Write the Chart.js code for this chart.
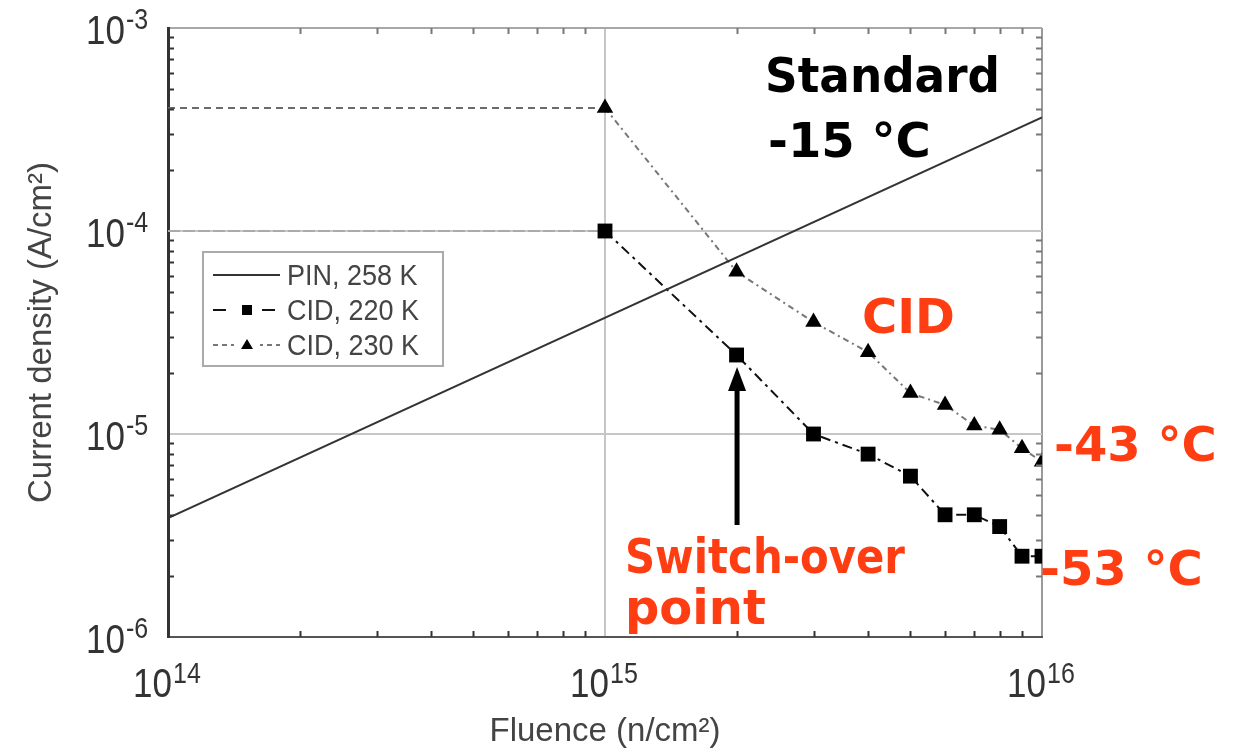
<!DOCTYPE html>
<html>
<head>
<meta charset="utf-8">
<script src="https://cdn.jsdelivr.net/npm/chart.js@4.4.1/dist/chart.umd.min.js"></script>
<style>
  html, body { margin: 0; padding: 0; background: #fff; }
  #wrap { width: 1233px; height: 753px; }
</style>
</head>
<body>
<div id="wrap"><canvas id="chart"></canvas></div>
<script>
// Fluence (n/cm2) of the CID points, first one is the flat start at 1e14
const fluence = [1e14, 1e15, 2e15, 3e15, 4e15, 5e15, 6e15, 7e15, 8e15, 9e15, 1e16];
// Current density (A/cm2)
const cid220 = [1e-4, 1e-4, 2.45e-5, 1.0e-5, 7.96e-6, 6.2e-6, 4.0e-6, 4.0e-6, 3.5e-6, 2.5e-6, 2.5e-6];
const cid230 = [4.04e-4, 4.04e-4, 6.3e-5, 3.56e-5, 2.53e-5, 1.59e-5, 1.39e-5, 1.1e-5, 1.05e-5, 8.5e-6, 7.3e-6];
// PIN is a straight line in log-log
const pinFluence = [1e14, 1e16];
const pin258 = [3.85e-6, 3.63e-4];

const seriesLabels = ['PIN, 258 K', 'CID, 220 K', 'CID, 230 K'];
const xTickExp = [14, 15, 16];
const yTickExp = [-3, -4, -5, -6];

const FONT = '"Liberation Sans", Arial, sans-serif';
const RED = '#ff3d12';

function isDecade(v) {
    const l = Math.log10(v);
    return Math.abs(l - Math.round(l)) < 1e-6;
}

function toPoints(xs, ys) {
    return xs.map((x, i) => ({ x: x, y: ys[i] }));
}

// "10" with a raised exponent, stretched a bit vertically like the scan
function drawPower(ctx, exp, xRight, baseline, expRise) {
    ctx.save();
    ctx.translate(0, baseline);
    ctx.scale(1, 1.15);
    ctx.fillStyle = '#333';
    ctx.textBaseline = 'alphabetic';
    ctx.textAlign = 'right';
    ctx.font = '35px ' + FONT;
    ctx.fillText('10', xRight, 0);
    ctx.textAlign = 'left';
    ctx.font = '25px ' + FONT;
    ctx.fillText(String(exp), xRight + 1, -expRise);
    ctx.restore();
}

const overlay = {
    id: 'overlay',
    afterDraw(chart) {
        const { ctx, chartArea: a, scales: { x, y } } = chart;
        ctx.save();

        // minor ticks on all four sides, pointing inward
        ctx.lineWidth = 2;
        for (let e = xTickExp[0]; e < xTickExp[xTickExp.length - 1]; e++) {
            for (let m = 2; m <= 9; m++) {
                const px = Math.round(x.getPixelForValue(m * Math.pow(10, e))) + 0.5;
                ctx.strokeStyle = '#333';
                ctx.beginPath(); ctx.moveTo(px, a.bottom); ctx.lineTo(px, a.bottom - 6); ctx.stroke();
                ctx.strokeStyle = '#777';
                ctx.beginPath(); ctx.moveTo(px, a.top); ctx.lineTo(px, a.top + 6); ctx.stroke();
            }
        }
        for (let e = yTickExp[yTickExp.length - 1]; e < yTickExp[0]; e++) {
            for (let m = 2; m <= 9; m++) {
                const py = Math.round(y.getPixelForValue(m * Math.pow(10, e))) + 0.5;
                ctx.strokeStyle = '#333';
                ctx.beginPath(); ctx.moveTo(a.left, py); ctx.lineTo(a.left + 6, py); ctx.stroke();
                ctx.strokeStyle = '#777';
                ctx.beginPath(); ctx.moveTo(a.right, py); ctx.lineTo(a.right - 6, py); ctx.stroke();
            }
        }

        // tick labels
        xTickExp.forEach(e => {
            const px = x.getPixelForValue(Math.pow(10, e));
            drawPower(ctx, e, px + 4, 697, 12);
        });
        yTickExp.forEach(e => {
            const py = y.getPixelForValue(Math.pow(10, e));
            drawPower(ctx, e, a.left - 43, py + 16, 13);
        });

        // legend box
        const lx = 203, ly = 252, lw = 240, lh = 114;
        ctx.fillStyle = '#fff';
        ctx.fillRect(lx, ly, lw, lh);
        ctx.strokeStyle = '#aaa';
        ctx.lineWidth = 2;
        ctx.strokeRect(lx, ly, lw, lh);
        const rows = [275, 310, 345];
        chart.data.datasets.forEach((ds, i) => {
            const ry = rows[i];
            ctx.strokeStyle = ds.borderColor;
            ctx.lineWidth = 2;
            ctx.setLineDash(i === 0 ? [] : (i === 1 ? [13, 36] : [5, 4]));
            ctx.beginPath(); ctx.moveTo(213, ry); ctx.lineTo(280, ry); ctx.stroke();
            ctx.setLineDash([]);
            ctx.fillStyle = '#000';
            if (i === 1) {
                ctx.fillStyle = '#fff'; ctx.fillRect(232, ry - 8, 30, 16);
                ctx.fillStyle = '#000'; ctx.fillRect(242, ry - 5, 10, 10);
            } else if (i === 2) {
                ctx.fillStyle = '#fff'; ctx.fillRect(234, ry - 8, 26, 16);
                ctx.fillStyle = '#000';
                ctx.beginPath(); ctx.moveTo(247, ry - 6); ctx.lineTo(253, ry + 4); ctx.lineTo(241, ry + 4); ctx.closePath(); ctx.fill();
            }
            ctx.save();
            ctx.translate(0, ry + 10);
            ctx.scale(1, 1.12);
            ctx.fillStyle = '#444';
            ctx.font = '27px ' + FONT;
            ctx.textAlign = 'left';
            ctx.textBaseline = 'alphabetic';
            ctx.fillText(ds.label, 287, 0);
            ctx.restore();
        });

        // arrow to the switch-over point
        const ax = x.getPixelForValue(fluence[2]);
        const tip = y.getPixelForValue(cid220[2]) + 12;
        ctx.fillStyle = '#000';
        ctx.fillRect(ax - 2, tip + 20, 5, 525 - tip - 20);
        ctx.beginPath();
        ctx.moveTo(ax + 0.5, tip);
        ctx.lineTo(ax + 9.5, tip + 24);
        ctx.lineTo(ax - 8.5, tip + 24);
        ctx.closePath();
        ctx.fill();

        // annotations
        const notes = [
            { t: 'Standard', x: 765, y: 92, w: 235, c: '#000' },
            { t: '-15 °C', x: 768, y: 157, w: 177, c: '#000' },
            { t: 'CID', x: 862, y: 333, w: 100, c: RED },
            { t: '-43 °C', x: 1054, y: 461, w: 171, c: RED },
            { t: '-53 °C', x: 1040, y: 585, w: 185, c: RED },
            { t: 'Switch-over', x: 625, y: 573, w: 280, c: RED },
            { t: 'point', x: 625, y: 624, w: 145, c: RED }
        ];
        ctx.font = 'bold 48px "DejaVu Sans", sans-serif';
        ctx.textAlign = 'left';
        ctx.textBaseline = 'alphabetic';
        notes.forEach(n => {
            ctx.fillStyle = n.c;
            ctx.fillText(n.t, n.x, n.y, n.w);
        });

        ctx.restore();
    }
};

new Chart(document.getElementById('chart'), {
    type: 'line',
    data: {
        datasets: [
            {
                label: seriesLabels[0],
                data: toPoints(pinFluence, pin258),
                borderColor: '#333',
                borderWidth: 2,
                pointRadius: 0
            },
            {
                label: seriesLabels[1],
                data: toPoints(fluence, cid220),
                borderColor: '#111',
                borderWidth: 2,
                borderDash: [10, 5, 3, 5],
                pointStyle: 'rect',
                pointRadius: ctx => ctx.dataIndex === 0 ? 0 : 10.5,
                pointBackgroundColor: '#000',
                pointBorderWidth: 0,
                segment: {
                    borderColor: ctx => ctx.p0DataIndex === 0 ? '#aaa' : undefined,
                    borderDash: ctx => ctx.p0DataIndex === 0 ? [12, 3] : undefined
                }
            },
            {
                label: seriesLabels[2],
                data: toPoints(fluence, cid230),
                borderColor: '#777',
                borderWidth: 2,
                borderDash: [6, 4, 2, 4],
                pointStyle: 'triangle',
                pointRadius: ctx => ctx.dataIndex === 0 ? 0 : 9.5,
                pointBackgroundColor: '#000',
                pointBorderWidth: 0,
                segment: {
                    borderColor: ctx => ctx.p0DataIndex === 0 ? '#6a6a6a' : undefined,
                    borderDash: ctx => ctx.p0DataIndex === 0 ? [7, 5] : undefined
                }
            }
        ]
    },
    options: {
        responsive: true,
        maintainAspectRatio: false,
        animation: false,
        clip: 0,
        layout: { padding: { left: 0, right: 191, top: 28, bottom: 0 } },
        plugins: {
            legend: { display: false },
            tooltip: { enabled: false }
        },
        scales: {
            x: {
                type: 'logarithmic',
                min: 1e14,
                max: 1e16,
                afterFit: s => { s.height = 116; },
                ticks: { display: false },
                grid: {
                    drawTicks: false,
                    lineWidth: 2,
                    color: ctx => {
                        if (!isDecade(ctx.tick.value)) return 'rgba(0,0,0,0)';
                        return ctx.tick.value >= 1e16 ? '#9a9a9a' : '#c6c6c6';
                    }
                },
                border: { color: '#555', width: 2 },
                title: {
                    display: true,
                    text: 'Fluence (n/cm²)',
                    color: '#444',
                    font: { family: FONT, size: 33 },
                    padding: { top: 0, bottom: 1 }
                }
            },
            y: {
                type: 'logarithmic',
                min: 1e-6,
                max: 1e-3,
                afterFit: s => { s.width = 168; },
                ticks: { display: false },
                grid: {
                    drawTicks: false,
                    lineWidth: 2,
                    color: ctx => {
                        if (!isDecade(ctx.tick.value)) return 'rgba(0,0,0,0)';
                        return ctx.tick.value >= 1e-3 ? '#a8a8a8' : '#c6c6c6';
                    }
                },
                border: { color: '#333', width: 3 },
                title: {
                    display: true,
                    text: 'Current density (A/cm²)',
                    color: '#444',
                    font: { family: FONT, size: 33 },
                    padding: { top: 22, bottom: 0 }
                }
            }
        }
    },
    plugins: [overlay]
});
</script>
</body>
</html>
